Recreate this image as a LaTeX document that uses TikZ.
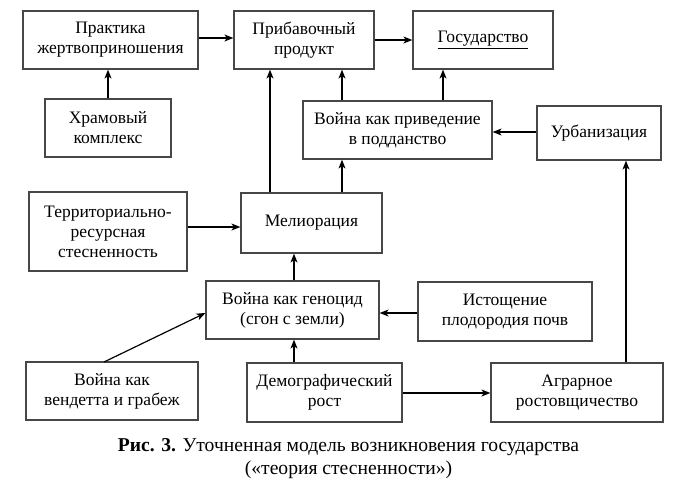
\documentclass[tikz,border=0pt]{standalone}
\usepackage{fontspec}
\setmainfont{Liberation Serif}
\usetikzlibrary{arrows.meta}
\begin{document}
\begin{tikzpicture}[x=1pt,y=-1pt,
  box/.style={draw=black!72,line width=1.2pt,rectangle,inner sep=0pt,align=center,
    font=\fontsize{17.5}{20}\selectfont},
  arr/.style={draw=black,line width=1.2pt,-{Stealth[length=9pt,width=7pt,inset=2.5pt]}}]
\useasboundingbox[fill=white] (0,0) rectangle (697,488);
\node[box,minimum width=175pt,minimum height=58pt] (prak) at (110.5,40) {Практика\\жертвоприношения};
\node[box,minimum width=140pt,minimum height=58pt] (prib) at (304,40) {Прибавочный\\продукт};
\node[box,minimum width=140pt,minimum height=58pt] (gos) at (483,40) {\underline{Государство}};
\node[box,minimum width=126pt,minimum height=58pt] (hram) at (108,128) {Храмовый\\комплекс};
\node[box,minimum width=189pt,minimum height=58pt] (podd) at (397.5,130) {Война как приведение\\в подданство};
\node[box,minimum width=124pt,minimum height=54pt] (urb) at (599,133) {Урбанизация};
\node[box,minimum width=158pt,minimum height=79pt] (terr) at (108,231.5) {Территориально-\\ресурсная\\стесненность};
\node[box,minimum width=141pt,minimum height=60pt] (mel) at (311.5,223) {Мелиорация};
\node[box,minimum width=173pt,minimum height=58pt] (gen) at (292.5,310) {Война как геноцид\\(сгон с земли)};
\node[box,minimum width=172pt,minimum height=58pt] (vend) at (112,391) {Война как\\вендетта и грабеж};
\node[box,minimum width=155pt,minimum height=59pt] (demo) at (324.5,392.5) {Демографический\\рост};
\node[box,minimum width=174pt,minimum height=59pt] (ist) at (505,311.5) {Истощение\\плодородия почв};
\node[box,minimum width=172pt,minimum height=59pt] (agr) at (577,392.5) {Аграрное\\ростовщичество};
\coordinate (c270) at (270,0);
\coordinate (c342) at (342,0);
\coordinate (c443) at (443,0);
\coordinate (c294) at (294,0);
\coordinate (c626) at (626,0);
\coordinate (y38) at (0,38);
\coordinate (y132) at (0,132);
\coordinate (y227) at (0,227);
\coordinate (y313) at (0,313);
\coordinate (y393) at (0,393);
\coordinate (v0) at (104,362);
\draw[arr] (prak.east |- y38) -- (prib.west |- y38);
\draw[arr] (prib.east) -- (gos.west);
\draw[arr] (hram.north) -- (hram.north |- prak.south);
\draw[arr] (mel.north -| c270) -- (prib.south -| c270);
\draw[arr] (mel.north -| c342) -- (podd.south -| c342);
\draw[arr] (podd.north -| c342) -- (prib.south -| c342);
\draw[arr] (podd.north -| c443) -- (gos.south -| c443);
\draw[arr] (urb.west |- y132) -- (podd.east |- y132);
\draw[arr] (terr.east |- y227) -- (mel.west |- y227);
\draw[arr] (gen.north -| c294) -- (mel.south -| c294);
\draw[arr] (demo.north -| c294) -- (gen.south -| c294);
\draw[arr] (ist.west |- y313) -- (gen.east |- y313);
\draw[arr] (v0) -- (gen.west |- y313);
\draw[arr] (demo.east |- y393) -- (agr.west |- y393);
\draw[arr] (agr.north -| c626) -- (urb.south -| c626);
\node[font=\fontsize{19.6}{23}\selectfont,align=center,inner sep=0pt] (cap) at (348.5,459)
  {\textbf{Рис. 3.} Уточненная модель возникновения государства\\(«теория стесненности»)};
\end{tikzpicture}
\end{document}
